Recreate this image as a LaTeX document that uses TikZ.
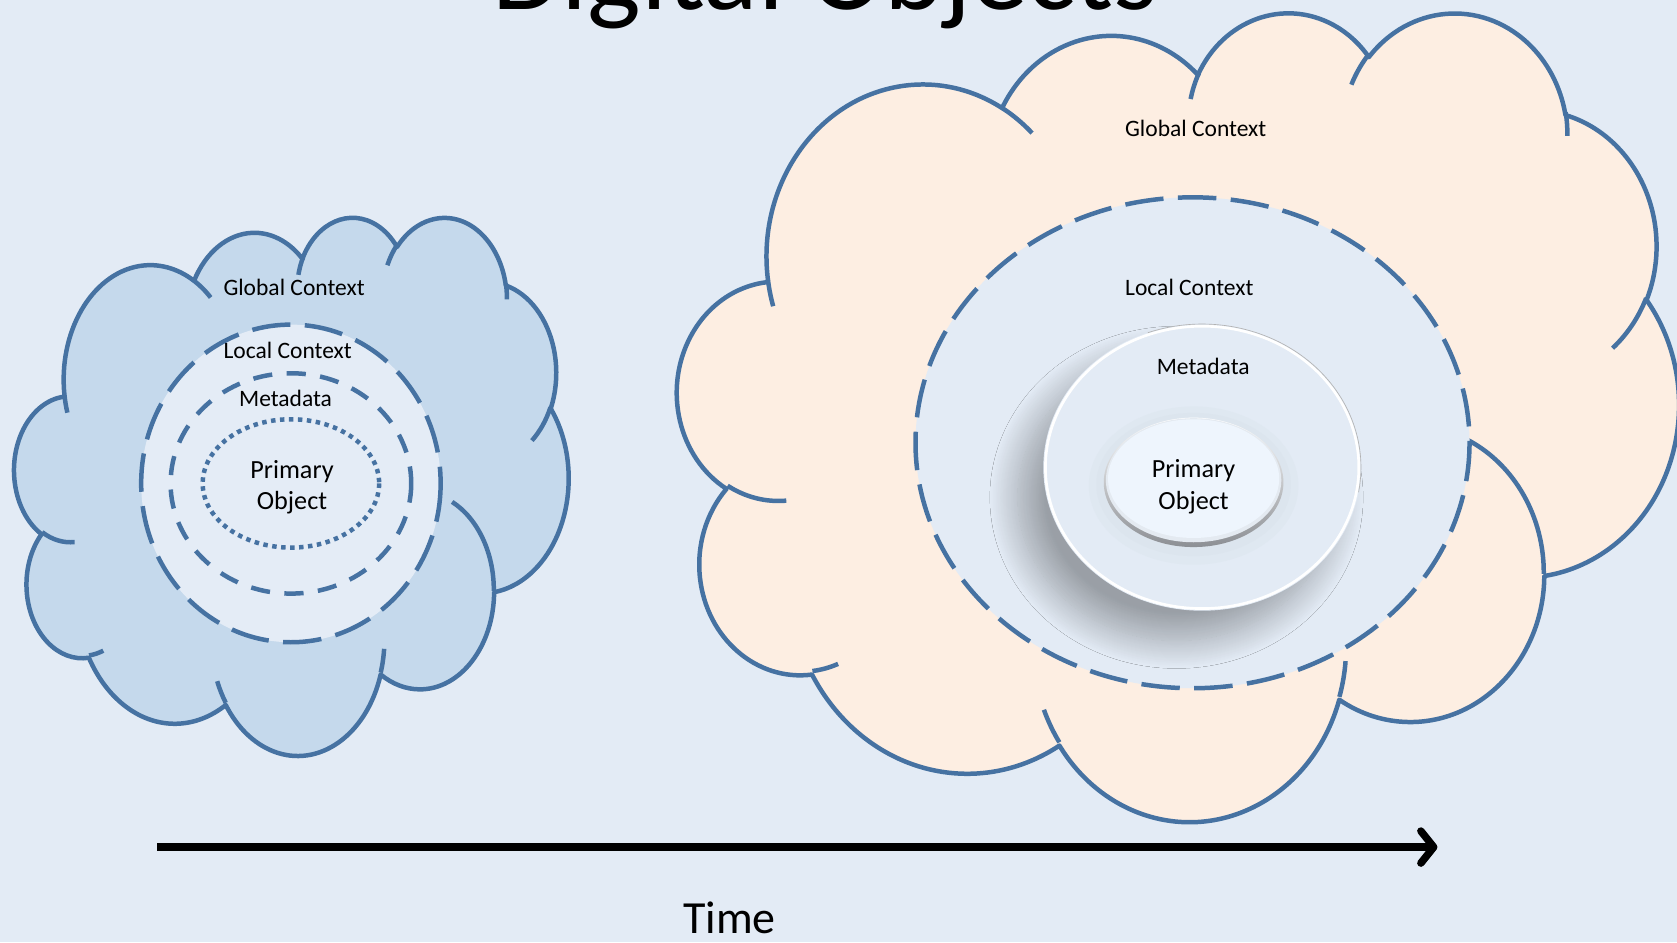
\documentclass[tikz,border=0pt]{standalone}
\usepackage{fontspec}
\setmainfont{Carlito}
\usetikzlibrary{arrows.meta,shadows.blur}
\definecolor{bgc}{HTML}{E3EBF5}
\definecolor{edgec}{HTML}{4672A2}
\definecolor{cloudblue}{HTML}{C5D9EC}
\definecolor{cloudpeach}{HTML}{FDEEE2}
\definecolor{innerc}{HTML}{E4ECF6}
\definecolor{primc}{HTML}{EEF5FD}
\definecolor{rimdark}{HTML}{8C8F94}
\definecolor{rimmid}{HTML}{D6DADF}
\definecolor{haloc}{HTML}{D9E3EB}
% DrawingML-style arcTo: wR hR stAng swAng (degrees, visual angles)
\newcommand\pptarc[4]{%
  \pgfmathsetmacro\pptA{atan2((#1)*sin(#3),(#2)*cos(#3))}%
  \pgfmathsetmacro\pptB{atan2((#1)*sin((#3)+(#4)),(#2)*cos((#3)+(#4)))}%
  \pgfmathsetmacro\pptE{\pptA+mod(\pptB-\pptA+720,360)}%
  \pgfpatharcaxes{\pptA}{\pptE}{\pgfpointxy{#1}{0}}{\pgfpointxy{0}{#2}}%
}
\newcommand\pptcloudmain{%
  \pgfpathmoveto{\pgfpointxy{39.00}{143.70}}%
  \pptarc{67.53}{91.90}{-190.4875}{123.7805}%
  \pptarc{53.33}{72.67}{-144.1024}{89.9452}%
  \pptarc{43.65}{59.45}{-145.8079}{99.7230}%
  \pptarc{48.57}{65.95}{-130.9861}{117.2417}%
  \pptarc{53.33}{72.73}{-78.7089}{109.0269}%
  \pptarc{67.75}{92.20}{-46.2673}{130.2690}%
  \pptarc{57.85}{78.67}{0.6250}{114.0333}%
  \pptarc{67.52}{92.15}{22.4516}{115.1726}%
  \pptarc{77.20}{105.43}{66.2426}{75.7110}%
  \pptarc{43.60}{59.18}{-274.9421}{146.7356}%
  \pptarc{43.45}{59.45}{-246.8285}{152.5189}%
  \pgfpathclose
}
\newcommand\pptcloudstubs{%
  \pgfpathmoveto{\pgfpointxy{46.93}{261.77}}\pptarc{43.45}{59.45}{86.7420}{26.4295}%
  \pgfpathmoveto{\pgfpointxy{69.28}{348.99}}\pptarc{43.60}{59.18}{73.6105}{11.4475}%
  \pgfpathmoveto{\pgfpointxy{164.78}{390.90}}\pptarc{67.52}{92.15}{137.6242}{14.0811}%
  \pgfpathmoveto{\pgfpointxy{288.27}{347.51}}\pptarc{67.52}{92.15}{6.4533}{15.9984}%
  \pgfpathmoveto{\pgfpointxy{341.29}{229.54}}\pptarc{57.85}{78.67}{-70.2924}{70.9174}%
  \pgfpathmoveto{\pgfpointxy{417.98}{153.54}}\pptarc{53.33}{72.73}{30.3180}{27.7515}%
  \pgfpathmoveto{\pgfpointxy{383.24}{54.26}}\pptarc{48.57}{65.95}{-13.7443}{14.8589}%
  \pgfpathmoveto{\pgfpointxy{290.78}{39.52}}\pptarc{48.57}{65.95}{-149.1815}{18.1954}%
  \pgfpathmoveto{\pgfpointxy{221.41}{47.20}}\pptarc{43.65}{59.45}{-163.4943}{17.6864}%
  \pgfpathmoveto{\pgfpointxy{140.00}{51.92}}\pptarc{67.53}{91.90}{-66.7070}{12.3194}%
  \pgfpathmoveto{\pgfpointxy{41.27}{157.89}}\pptarc{67.53}{91.90}{157.6544}{11.8582}%
}
\newcommand\pptcloud[1]{%
  \pgfsetlinewidth{4.2pt}\pgfsetroundjoin
  \pgfsetfillcolor{#1}\pgfsetstrokecolor{edgec}%
  \pptcloudmain\pgfusepath{fill,stroke}%
  \pptcloudstubs\pgfusepath{stroke}%
}
\tikzset{
  lbl/.style={font=\fontsize{22}{26}\selectfont, inner sep=0pt, anchor=base},
  plbl/.style={font=\fontsize{24.5}{29}\selectfont, inner sep=0pt, anchor=base},
  longdash/.style={draw=edgec, line width=4.2pt, dash pattern=on 36pt off 13.5pt},
  shortdash/.style={draw=edgec, line width=4.2pt, dash pattern=on 18pt off 13.5pt},
  sqdot/.style={draw=edgec, line width=4.2pt, dash pattern=on 4.2pt off 4.2pt},
}
\begin{document}
\begin{tikzpicture}[x=1pt,y=-1pt]
\useasboundingbox (0,0) rectangle (1568,881);
\clip (0,0) rectangle (1568,881);
\fill[bgc] (0,0) rectangle (1568,881);

% title
\node[font=\fontsize{106}{110}\selectfont, inner sep=0pt, anchor=base] (title) at (771.5,8.7) {Digital Objects};

% ---------- left cloud ----------
\begin{scope}[shift={(13.5,202)},x=1.1991pt,y=-1.1644pt]
  \pptcloud{cloudblue}
\end{scope}
\fill[innerc] (272,452) ellipse [x radius=140, y radius=148.5];
\draw[longdash] (272,452) ellipse [x radius=140, y radius=148.5];
\draw[shortdash] (272,452) ellipse [x radius=112.5, y radius=103];
\draw[sqdot] (272,452) ellipse [x radius=82.5, y radius=60];
\node[lbl] (gc1) at (275,276) {Global Context};
\node[lbl] (lc1) at (269,335) {Local Context};
\node[lbl] (md1) at (267,380) {Metadata};
\node[plbl] (po1a) at (273,447) {Primary};
\node[plbl] (po1b) at (273,476) {Object};

% ---------- right cloud ----------
\begin{scope}[shift={(633.5,10)},x=2.1667pt,y=-1.75pt]
  \pptcloud{cloudpeach}
\end{scope}
\fill[bgc] (1115,414) ellipse [x radius=259, y radius=229.5];
\draw[longdash] (1115,414) ellipse [x radius=259, y radius=229.5];

% metadata 3D ellipse
\fill[bgc, blur shadow={shadow xshift=-24pt, shadow yshift=-28pt, shadow blur radius=26pt, shadow blur steps=30, shadow opacity=32}]
  (1124,437) ellipse [x radius=148.5, y radius=134];
\draw[white, line width=2.5pt] (1124,437) ellipse [x radius=146.5, y radius=132];
\draw[black!30, line width=0.6pt] (1124,437) ++(-110:148.5 and 134) arc[start angle=-110, end angle=10, x radius=148.5, y radius=134];

% soft halo round the primary object
\fill[haloc!40!bgc] (1116,454) ellipse [x radius=98, y radius=74];
\fill[haloc!70!bgc] (1116,453) ellipse [x radius=91, y radius=67];
% primary object 3D ellipse
\shade[top color=white, middle color=rimmid, bottom color=rimdark] (1116,451) ellipse [x radius=84, y radius=60.5];
\fill[primc!60!rimmid] (1116,449) ellipse [x radius=82, y radius=58];
\fill[primc] (1116,447.5) ellipse [x radius=80, y radius=55.5];

\node[lbl] (gc2) at (1118,128) {Global Context};
\node[lbl] (lc2) at (1112,276) {Local Context};
\node[lbl] (md2) at (1125,350) {Metadata};
\node[plbl] (po2a) at (1116,446) {Primary};
\node[plbl] (po2b) at (1116,476) {Object};

% time arrow
\coordinate (t0) at (147,792);
\coordinate (t1) at (1344,792);
\draw[line width=7pt, -{Straight Barb[length=12pt, width=30pt, round]}] (t0) -- (t1);
\node[font=\fontsize{43}{50}\selectfont, inner sep=0pt, anchor=base] (time) at (682,873) {Time};
\end{tikzpicture}
\end{document}
